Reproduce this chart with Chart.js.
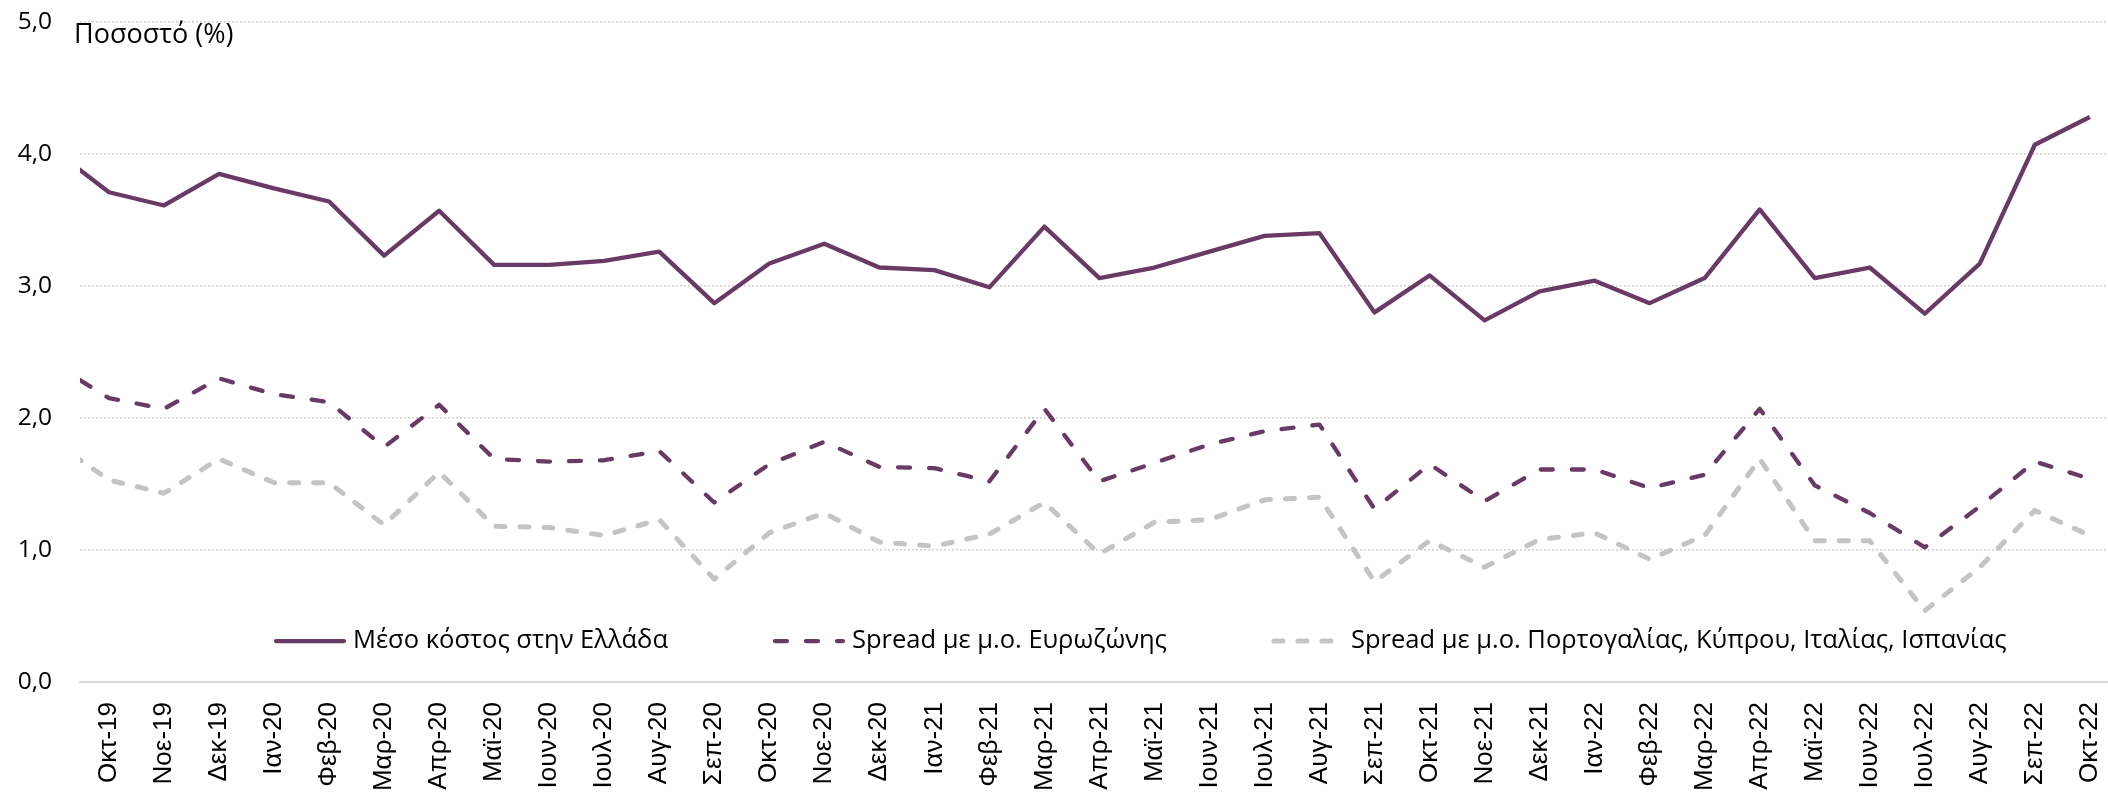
<!DOCTYPE html>
<html lang="el">
<head>
  <meta charset="UTF-8" />
  <title>Μέσο κόστος και spread</title>
  <script src="https://cdn.jsdelivr.net/npm/chart.js"></script>
  <style>
    body {
      margin: 0;
      background: #fff;
    }
    #wrap {
      width: 2108px;
      height: 796px;
    }
  </style>
</head>
<body>
  <div id="wrap"><canvas id="chart" width="2108" height="796"></canvas></div>

  <script>
    // months (first one lies just left of the visible axis, as in the original)
    const months = [
      "Σεπ-19", "Οκτ-19", "Νοε-19", "Δεκ-19",
      "Ιαν-20", "Φεβ-20", "Μαρ-20", "Απρ-20", "Μαϊ-20", "Ιουν-20",
      "Ιουλ-20", "Αυγ-20", "Σεπ-20", "Οκτ-20", "Νοε-20", "Δεκ-20",
      "Ιαν-21", "Φεβ-21", "Μαρ-21", "Απρ-21", "Μαϊ-21", "Ιουν-21",
      "Ιουλ-21", "Αυγ-21", "Σεπ-21", "Οκτ-21", "Νοε-21", "Δεκ-21",
      "Ιαν-22", "Φεβ-22", "Μαρ-22", "Απρ-22", "Μαϊ-22", "Ιουν-22",
      "Ιουλ-22", "Αυγ-22", "Σεπ-22", "Οκτ-22"
    ];

    const costGreece = [
      4.03, 3.71, 3.61, 3.85,
      3.74, 3.64, 3.23, 3.57, 3.16, 3.16, 3.19, 3.26, 2.87, 3.17, 3.32, 3.14,
      3.12, 2.99, 3.45, 3.06, 3.14, 3.26, 3.38, 3.40, 2.80, 3.08, 2.74, 2.96,
      3.04, 2.87, 3.06, 3.58, 3.06, 3.14, 2.79, 3.17, 4.07, 4.28
    ];

    const spreadEuro = [
      2.41, 2.15, 2.07, 2.30,
      2.18, 2.12, 1.78, 2.10, 1.69, 1.67, 1.68, 1.75, 1.36, 1.65, 1.82, 1.63,
      1.62, 1.52, 2.07, 1.52, 1.66, 1.80, 1.90, 1.95, 1.31, 1.65, 1.37, 1.61,
      1.61, 1.47, 1.57, 2.07, 1.49, 1.28, 1.02, 1.33, 1.67, 1.54
    ];

    const spreadSouth = [
      1.82, 1.53, 1.43, 1.69,
      1.51, 1.51, 1.19, 1.59, 1.18, 1.17, 1.11, 1.23, 0.78, 1.13, 1.28, 1.06,
      1.03, 1.12, 1.36, 0.97, 1.21, 1.23, 1.38, 1.40, 0.76, 1.07, 0.87, 1.08,
      1.13, 0.93, 1.11, 1.69, 1.07, 1.07, 0.54, 0.87, 1.30, 1.11
    ];

    const yTicks = [0, 1, 2, 3, 4, 5];

    const purple = "#693a66";
    const grey = "#c4c4c4";
    const labelFont = "'Open Sans', 'Noto Sans', sans-serif";

    const toPoints = (arr) => arr.map((v, i) => ({ x: i, y: v }));

    // axis title + legend inside the plot area
    const overlay = {
      id: "overlay",
      afterDraw(chart) {
        const ctx = chart.ctx;
        const area = chart.chartArea;
        const y = chart.scales.y;
        ctx.save();
        ctx.fillStyle = "#000";
        ctx.textBaseline = "middle";
        ctx.textAlign = "left";
        ctx.font = "27px " + labelFont;
        ctx.fillText("Ποσοστό (%)", area.left - 6, y.getPixelForValue(4.9));

        ctx.font = "25.5px " + labelFont;
        ctx.lineCap = "round";
        const ly = y.getPixelForValue(0.31);
        let x = area.left + 196;
        chart.data.datasets.forEach((ds) => {
          ctx.strokeStyle = ds.borderColor;
          ctx.lineWidth = ds.borderWidth;
          ctx.setLineDash(ds.borderDash || []);
          ctx.beginPath();
          ctx.moveTo(x, ly);
          ctx.lineTo(x + 68, ly);
          ctx.stroke();
          ctx.setLineDash([]);
          ctx.fillText(ds.label, x + 77, ly);
          x += 77 + ctx.measureText(ds.label).width + 107;
        });
        ctx.restore();
      }
    };

    new Chart(document.getElementById("chart"), {
      type: "line",
      data: {
        datasets: [
          {
            label: "Μέσο κόστος στην Ελλάδα",
            data: toPoints(costGreece),
            borderColor: purple,
            borderWidth: 4.3,
            borderJoinStyle: "round"
          },
          {
            label: "Spread με μ.ο. Ευρωζώνης",
            data: toPoints(spreadEuro),
            borderColor: purple,
            borderWidth: 4.3,
            borderDash: [12, 19],
            borderCapStyle: "round",
            borderJoinStyle: "round"
          },
          {
            label: "Spread με μ.ο. Πορτογαλίας, Κύπρου, Ιταλίας, Ισπανίας",
            data: toPoints(spreadSouth),
            borderColor: grey,
            borderWidth: 5,
            borderDash: [9, 15],
            borderCapStyle: "round",
            borderJoinStyle: "round"
          }
        ]
      },
      options: {
        responsive: false,
        animation: false,
        clip: 0,
        elements: { point: { radius: 0 }, line: { tension: 0 } },
        layout: { padding: { top: 22, left: 16, right: 0, bottom: 0 } },
        plugins: {
          legend: { display: false },
          tooltip: { enabled: false }
        },
        scales: {
          x: {
            type: "linear",
            min: 0.473,
            max: 37.33,
            afterBuildTicks: (s) => {
              s.ticks = months.slice(1).map((m, i) => ({ value: i + 1 }));
            },
            afterFit: (s) => {
              s.height = 114;
              s.paddingLeft = 0;
              s.paddingRight = 0;
            },
            ticks: {
              autoSkip: false,
              maxRotation: 90,
              minRotation: 90,
              padding: 20,
              color: "#000",
              font: { family: "'Liberation Sans', Arial, sans-serif", size: 26 },
              callback: (v) => months[v]
            },
            grid: { display: false, drawTicks: false },
            border: { display: true, color: "#d9d9d9", width: 2 }
          },
          y: {
            min: 0,
            max: 5,
            afterBuildTicks: (s) => {
              s.ticks = yTicks.map((v) => ({ value: v }));
            },
            afterFit: (s) => {
              s.width = 64;
              s.paddingTop = 0;
              s.paddingBottom = 0;
            },
            ticks: {
              padding: 28,
              color: "#000",
              font: { family: labelFont, size: 24.5 },
              callback: (v) => v.toFixed(1).replace(".", ",")
            },
            grid: { color: "#d0d0d0", lineWidth: 1.5, drawTicks: false },
            border: { display: false, dash: [2, 2] }
          }
        }
      },
      plugins: [overlay]
    });
  </script>
</body>
</html>
